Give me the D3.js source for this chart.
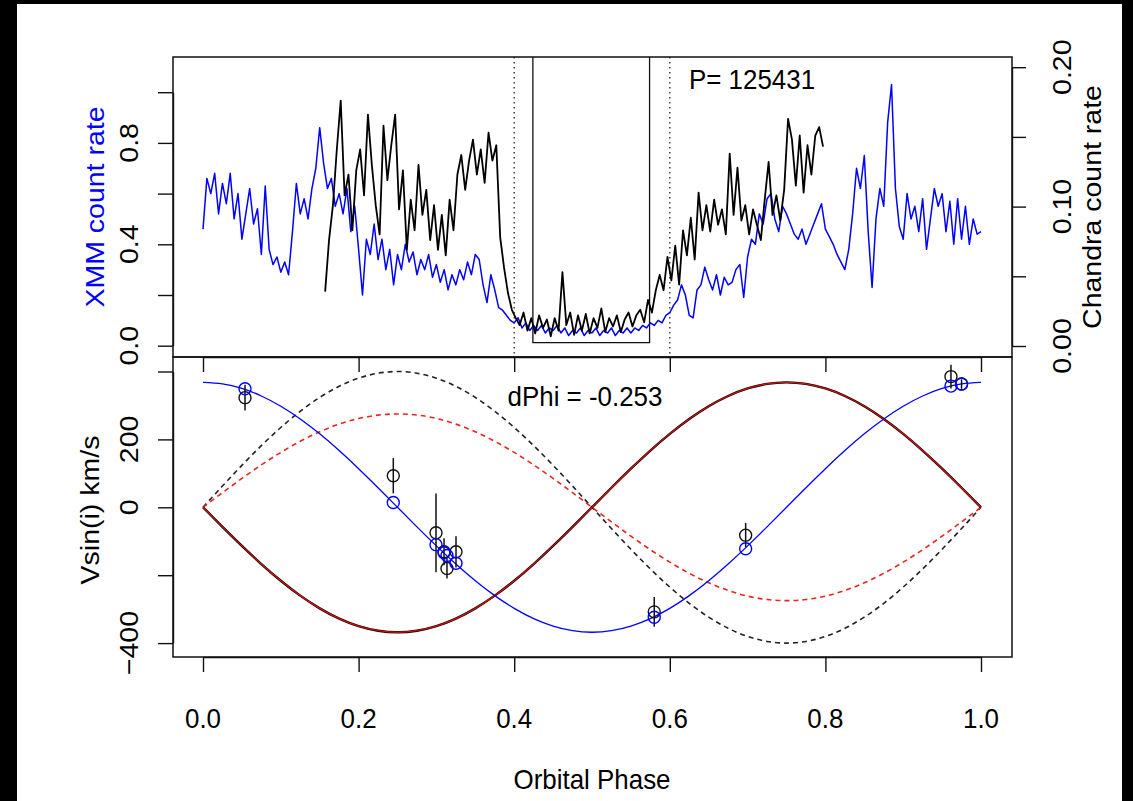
<!DOCTYPE html>
<html><head><meta charset="utf-8">
<script src="https://cdn.jsdelivr.net/npm/d3@7"></script>
<style>body{margin:0;background:#000;}svg{display:block}</style>
</head><body>
<svg id="c" width="1133" height="801"></svg>
<script>
// ---------- DATA ----------
const xmmStart = 0.0, xmmStep = 0.005;
const xmmRate = [0.46,0.66,0.60,0.68,0.52,0.64,0.56,0.68,0.50,0.60,
0.42,0.52,0.62,0.48,0.54,0.36,0.63,0.38,0.32,0.35,
0.29,0.33,0.28,0.45,0.64,0.52,0.58,0.50,0.62,0.70,
0.86,0.72,0.62,0.66,0.55,0.60,0.52,0.62,0.45,0.55,
0.38,0.20,0.42,0.36,0.48,0.34,0.42,0.30,0.38,0.24,
0.36,0.30,0.40,0.33,0.37,0.28,0.34,0.30,0.36,0.27,
0.32,0.25,0.30,0.22,0.28,0.24,0.30,0.26,0.33,0.28,
0.36,0.34,0.24,0.17,0.28,0.22,0.15,0.14,0.12,0.10,
0.09,0.11,0.07,0.09,0.06,0.08,0.06,0.08,0.05,0.07,
0.06,0.08,0.05,0.07,0.04,0.06,0.05,0.07,0.04,0.06,
0.05,0.07,0.04,0.06,0.05,0.07,0.04,0.06,0.05,0.07,
0.05,0.07,0.06,0.08,0.07,0.09,0.08,0.10,0.09,0.12,
0.13,0.16,0.18,0.24,0.20,0.12,0.11,0.22,0.24,0.31,
0.26,0.22,0.28,0.20,0.27,0.24,0.25,0.30,0.32,0.19,
0.35,0.42,0.40,0.52,0.48,0.58,0.60,0.50,0.45,0.55,
0.52,0.48,0.44,0.42,0.46,0.40,0.44,0.48,0.52,0.56,
0.46,0.43,0.40,0.36,0.33,0.30,0.38,0.52,0.70,0.62,
0.75,0.45,0.23,0.50,0.62,0.55,0.88,1.03,0.62,0.47,
0.42,0.60,0.50,0.55,0.45,0.58,0.38,0.50,0.62,0.55,
0.60,0.45,0.57,0.40,0.58,0.42,0.55,0.40,0.50,0.44,
0.45];

const chandraStart = 0.157, chandraStep = 0.005;
const chandraRate = [0.039,0.076,0.101,0.141,0.176,0.108,0.123,0.083,0.126,0.141,
0.108,0.166,0.130,0.101,0.080,0.158,0.119,0.144,0.166,0.098,
0.126,0.069,0.105,0.083,0.130,0.094,0.112,0.076,0.101,0.069,
0.094,0.065,0.105,0.083,0.123,0.137,0.112,0.133,0.148,0.123,
0.141,0.117,0.153,0.133,0.144,0.078,0.056,0.038,0.026,0.020,
0.015,0.024,0.011,0.020,0.009,0.022,0.013,0.019,0.007,0.020,
0.011,0.053,0.015,0.024,0.008,0.022,0.011,0.023,0.009,0.020,
0.013,0.027,0.010,0.020,0.014,0.022,0.010,0.019,0.024,0.014,
0.022,0.026,0.017,0.033,0.024,0.040,0.051,0.040,0.064,0.047,
0.072,0.044,0.083,0.065,0.092,0.062,0.110,0.083,0.101,0.082,
0.105,0.087,0.098,0.080,0.138,0.094,0.128,0.090,0.101,0.080,
0.098,0.087,0.076,0.105,0.132,0.094,0.108,0.090,0.112,0.163,
0.148,0.115,0.151,0.110,0.144,0.123,0.151,0.157,0.143];

// radial-velocity model curves sampled every 0.025 in phase
const modelStep = 0.025;
const blueModel = [368,363.5,350,327.9,297.7,260.2,216.3,167.1,113.7,57.6,0,
-57.6,-113.7,-167.1,-216.3,-260.2,-297.7,-327.9,-350,-363.5,-368,
-363.5,-350,-327.9,-297.7,-260.2,-216.3,-167.1,-113.7,-57.6,0,
57.6,113.7,167.1,216.3,260.2,297.7,327.9,350,363.5,368];
const redModel = [0,-57.6,-113.7,-167.1,-216.3,-260.2,-297.7,-327.9,-350,-363.5,-368,
-363.5,-350,-327.9,-297.7,-260.2,-216.3,-167.1,-113.7,-57.6,0,
57.6,113.7,167.1,216.3,260.2,297.7,327.9,350,363.5,368,
363.5,350,327.9,297.7,260.2,216.3,167.1,113.7,57.6,0];
const blackDashed = [0,62.6,123.6,181.6,235.1,282.8,323.6,356.4,380.4,395.1,400,
395.1,380.4,356.4,323.6,282.8,235.1,181.6,123.6,62.6,0,
-62.6,-123.6,-181.6,-235.1,-282.8,-323.6,-356.4,-380.4,-395.1,-400,
-395.1,-380.4,-356.4,-323.6,-282.8,-235.1,-181.6,-123.6,-62.6,0];
const redDashed = [0,43,85,124.9,161.6,194.5,222.5,245,261.6,271.6,275,
271.6,261.6,245,222.5,194.5,161.6,124.9,85,43,0,
-43,-85,-124.9,-161.6,-194.5,-222.5,-245,-261.6,-271.6,-275,
-271.6,-261.6,-245,-222.5,-194.5,-161.6,-124.9,-85,-43,0];

// observed velocities with errors, and model values at those phases
const obsPhase = [0.054,0.2446,0.2995,0.3098,0.3136,0.3252,0.580,0.6975,0.9614,0.975];
const obsVel   = [323,93,-75,-131,-180,-131,-308,-82,385,363];
const obsErr   = [38,52,116,40,30,46,44,36,35,14];
const fitVel   = [349,14,-110,-134,-142,-165,-324,-122,357,363];

const xTicks = [0,0.2,0.4,0.6,0.8,1.0];
const xmmTicks = [0,0.2,0.4,0.6,0.8,1.0], xmmLabels = [0,0.4,0.8];
const chTicks = [0,0.05,0.10,0.15,0.20], chLabels = [0,0.10,0.20];
const vTicks = [-400,-200,0,200,400], vLabels = [-400,0,200];

// ---------- DRAW ----------
const svg = d3.select('#c');
const FONT = '"Liberation Sans", Arial, Helvetica, sans-serif';
const FS = 28.5, SX = 0.91;
svg.append('rect').attr('x',17).attr('y',4).attr('width',1105).attr('height',797).attr('fill','#fff');

const L=173, R=1012, T1=57, B1=357, T2=357, B2=657;
const x = d3.scaleLinear().domain([0,1]).range([203,981]);
const yX = d3.scaleLinear().domain([0,1]).range([345.7,92.2]);
const yC = d3.scaleLinear().domain([0,0.2]).range([346,67.2]);
const yV = d3.scaleLinear().domain([-400,400]).range([643.1,371.5]);

svg.append('defs').call(d=>{
  d.append('clipPath').attr('id','c1').append('rect').attr('x',L).attr('y',T1).attr('width',R-L).attr('height',B1-T1);
  d.append('clipPath').attr('id','c2').append('rect').attr('x',L).attr('y',T2).attr('width',R-L).attr('height',B2-T2);
});

function txt(s, px, py, rot, fill){
  svg.append('text')
    .attr('transform', `translate(${px},${py}) scale(${SX},1)` + (rot ? ' rotate(-90)' : ''))
    .attr('text-anchor','middle')
    .attr('font-family',FONT).attr('font-size',FS)
    .attr('fill', fill || '#000').text(s);
}

// top panel
const g1 = svg.append('g').attr('clip-path','url(#c1)');
[0.4,0.6].forEach(p=>{
  g1.append('line').attr('x1',x(p)).attr('x2',x(p)).attr('y1',T1).attr('y2',B1)
    .attr('stroke','#333').attr('stroke-width',1.4).attr('stroke-dasharray','1.5,3.5');
});
g1.append('path').attr('d', `M${x(0.424)},${T1-5}V${yX(0.012)}H${x(0.574)}V${T1-5}`)
  .attr('fill','none').attr('stroke','#111').attr('stroke-width',1.3);

const xmmLine = d3.line().x((d,i)=>x(xmmStart+i*xmmStep)).y(d=>yX(d));
g1.append('path').datum(xmmRate).attr('d',xmmLine).attr('fill','none')
  .attr('stroke','#0000ff').attr('stroke-width',1.5).attr('stroke-linejoin','round');
const chLine = d3.line().x((d,i)=>x(chandraStart+i*chandraStep)).y(d=>yC(d));
g1.append('path').datum(chandraRate).attr('d',chLine).attr('fill','none')
  .attr('stroke','#000').attr('stroke-width',1.8).attr('stroke-linejoin','round');

// bottom panel
const g2 = svg.append('g').attr('clip-path','url(#c2)');
const mLine = d3.line().x((d,i)=>x(i*modelStep)).y(d=>yV(d)).curve(d3.curveNatural);
g2.append('path').datum(blackDashed).attr('d',mLine).attr('fill','none')
  .attr('stroke','#222').attr('stroke-width',1.6).attr('stroke-dasharray','5,4');
g2.append('path').datum(redDashed).attr('d',mLine).attr('fill','none')
  .attr('stroke','#e8261f').attr('stroke-width',1.6).attr('stroke-dasharray','5,4');
g2.append('path').datum(redModel).attr('d',mLine).attr('fill','none')
  .attr('stroke','#000').attr('stroke-width',2.4);
g2.append('path').datum(redModel).attr('d',mLine).attr('fill','none')
  .attr('stroke','#d01010').attr('stroke-width',1.3);
g2.append('path').datum(blueModel).attr('d',mLine).attr('fill','none')
  .attr('stroke','#0000ff').attr('stroke-width',1.3);

obsPhase.forEach((p,i)=>{
  g2.append('line').attr('x1',x(p)).attr('x2',x(p))
    .attr('y1',yV(obsVel[i]-obsErr[i])).attr('y2',yV(obsVel[i]+obsErr[i]))
    .attr('stroke','#111').attr('stroke-width',1.5);
});
g2.selectAll('circle.obs').data(obsPhase).enter().append('circle')
  .attr('cx',d=>x(d)).attr('cy',(d,i)=>yV(obsVel[i])).attr('r',6)
  .attr('fill','none').attr('stroke','#111').attr('stroke-width',1.4);
g2.selectAll('circle.fit').data(obsPhase).enter().append('circle')
  .attr('cx',d=>x(d)).attr('cy',(d,i)=>yV(fitVel[i])).attr('r',6)
  .attr('fill','none').attr('stroke','#0000ff').attr('stroke-width',1.4);

// boxes
[[T1,B1],[T2,B2]].forEach(([t,b])=>{
  svg.append('rect').attr('x',L).attr('y',t).attr('width',R-L).attr('height',b-t)
    .attr('fill','none').attr('stroke','#111').attr('stroke-width',1.5);
});

// axes (ticks only)
function styleAxis(g){ g.selectAll('path,line').attr('stroke','#111').attr('stroke-width',1.4); g.selectAll('text').remove(); }
svg.append('g').attr('transform',`translate(${L},0)`)
  .call(d3.axisLeft(yX).tickValues(xmmTicks).tickSize(15).tickSizeOuter(0).tickFormat('')).call(styleAxis);
svg.append('g').attr('transform',`translate(${R},0)`)
  .call(d3.axisRight(yC).tickValues(chTicks).tickSize(14).tickSizeOuter(0).tickFormat('')).call(styleAxis);
svg.append('g').attr('transform',`translate(${L},0)`)
  .call(d3.axisLeft(yV).tickValues(vTicks).tickSize(15).tickSizeOuter(0).tickFormat('')).call(styleAxis);
svg.append('g').attr('transform',`translate(0,${B2})`)
  .call(d3.axisBottom(x).tickValues(xTicks).tickSize(15).tickSizeOuter(0).tickFormat('')).call(styleAxis);
svg.append('g').attr('transform',`translate(0,${T2})`)
  .call(d3.axisBottom(x).tickValues(xTicks).tickSize(15).tickSizeOuter(0).tickFormat('')).call(styleAxis);

// tick labels
xmmLabels.forEach(v=>txt(d3.format('.1f')(v), 138, yX(v), true));
chLabels.forEach(v=>txt(d3.format('.2f')(v), 1071, yC(v), true));
vLabels.forEach(v=>txt(v<0 ? '\u2212'+Math.abs(v) : String(v), 138, yV(v), true));
xTicks.forEach(v=>txt(d3.format('.1f')(v), x(v), 728, false));

// titles
txt('XMM count rate', 104, 207, true, '#0000ff');
txt('Chandra count rate', 1101, 207, true);
txt('Vsin(i) km/s', 99, 510, true);
txt('Orbital Phase', x(0.5), 789, false);
txt('P= 125431', 752, 89, false);
txt('dPhi = -0.253', 585, 406, false);
</script>
</body></html>
